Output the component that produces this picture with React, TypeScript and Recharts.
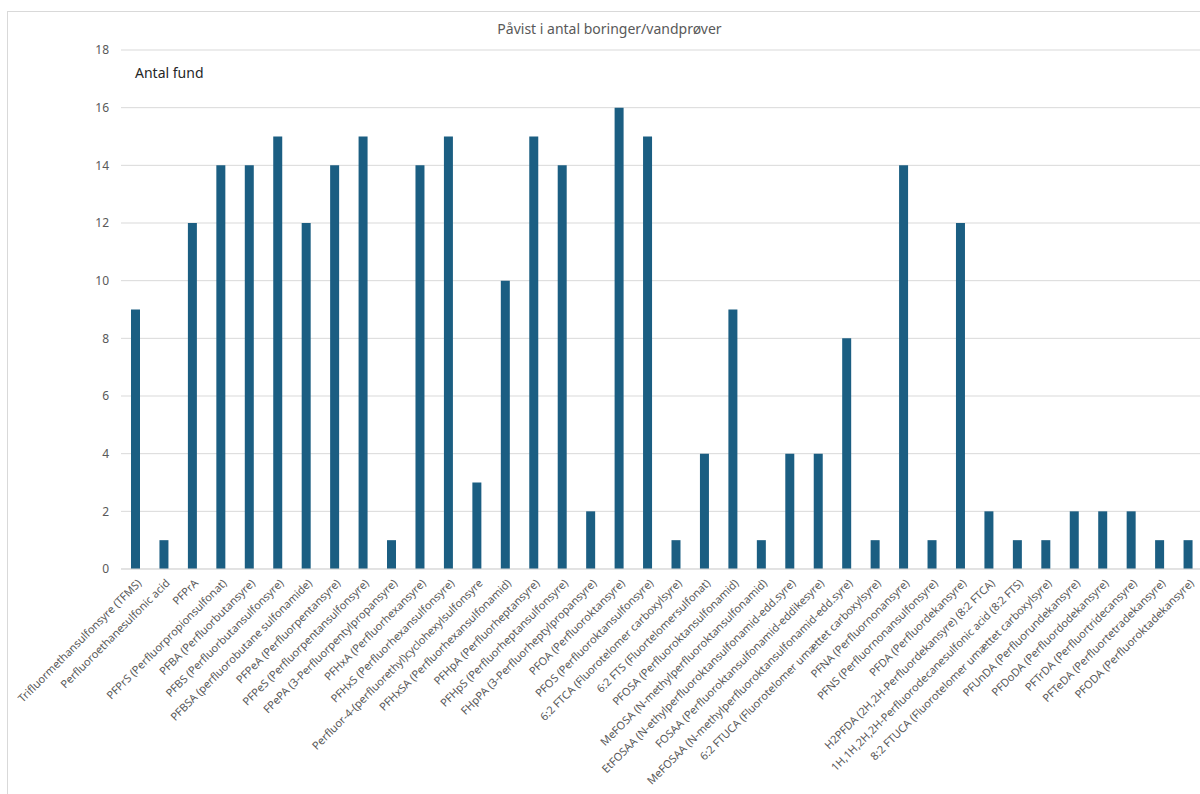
import React from 'react';
import { BarChart, Bar, XAxis, YAxis, CartesianGrid } from 'recharts';

const compounds = [
  'Trifluormethansulfonsyre (TFMS)',
  'Perfluoroethanesulfonic acid',
  'PFPrA',
  'PFPrS (Perfluorpropionsulfonat)',
  'PFBA (Perfluorbutansyre)',
  'PFBS (Perfluorbutansulfonsyre)',
  'PFBSA (perfluorobutane sulfonamide)',
  'PFPeA (Perfluorpentansyre)',
  'PFPeS (Perfluorpentansulfonsyre)',
  'FPePA (3-Perfluorpentylpropansyre)',
  'PFHxA (Perfluorhexansyre)',
  'PFHxS (Perfluorhexansulfonsyre)',
  'Perfluor-4-(perfluorethyl)cyclohexylsulfonsyre',
  'PFHxSA (Perfluorhexansulfonamid)',
  'PFHpA (Perfluorheptansyre)',
  'PFHpS (Perfluorheptansulfonsyre)',
  'FHpPA (3-Perfluorheptylpropansyre)',
  'PFOA (Perfluoroktansyre)',
  'PFOS (Perfluoroktansulfonsyre)',
  '6:2 FTCA (Fluorotelomer carboxylsyre)',
  '6:2 FTS (Fluortelomersulfonat)',
  'PFOSA (Perfluoroktansulfonamid)',
  'MeFOSA (N-methylperfluoroktansulfonamid)',
  'EtFOSAA (N-ethylperfluoroktansulfonamid-edd.syre)',
  'FOSAA (Perfluoroktansulfonamid-eddikesyre)',
  'MeFOSAA (N-methylperfluoroktansulfonamid-edd.syre)',
  '6:2 FTUCA (Fluorotelomer umættet carboxylsyre)',
  'PFNA (Perfluornonansyre)',
  'PFNS (Perfluornonansulfonsyre)',
  'PFDA (Perfluordekansyre)',
  'H2PFDA (2H,2H-Perfluordekansyre) (8:2 FTCA)',
  '1H,1H,2H,2H-Perfluorodecanesulfonic acid (8:2 FTS)',
  '8:2 FTUCA (Fluorotelomer umættet carboxylsyre)',
  'PFUnDA (Perfluorundekansyre)',
  'PFDoDA (Perfluordodekansyre)',
  'PFTrDA (Perfluortridecansyre)',
  'PFTeDA (Perfluortetradekansyre)',
  'PFODA (Perfluoroktadekansyre)',
];

const antalFund = [
  9, 1, 12, 14, 14, 15, 12, 14, 15, 1, 14, 15, 3, 10, 15, 14, 2, 16, 15, 1,
  4, 9, 1, 4, 4, 8, 1, 14, 1, 12, 2, 1, 1, 2, 2, 2, 1, 1,
];

const yTicks = [0, 2, 4, 6, 8, 10, 12, 14, 16, 18];

const data = compounds.map((name, i) => ({ name, fund: antalFund[i] }));

const FONT = '"Noto Sans", sans-serif';

const SlantTick = (props: any) => {
  const { x, y, payload } = props;
  return (
    <g transform={`translate(${x + 4},${y + 4})`}>
      <text
        x={0}
        y={0}
        dy={4}
        textAnchor="end"
        transform="rotate(-45)"
        fontSize={11}
        fontFamily={FONT}
        fill="#595959"
      >
        {payload.value}
      </text>
    </g>
  );
};

const AxisTitle = (props: any) => {
  const { viewBox } = props;
  return (
    <text
      x={viewBox.x + viewBox.width + 14}
      y={viewBox.y + 28}
      fontSize={14}
      fontFamily={FONT}
      fill="#262626"
    >
      Antal fund
    </text>
  );
};

export default function App() {
  return (
    <div
      style={{
        position: 'absolute',
        left: 0,
        top: 0,
        width: 1200,
        height: 794,
        overflow: 'hidden',
        background: '#fff',
      }}
    >
      <div
        style={{
          position: 'absolute',
          left: 7,
          top: 11,
          width: 1220,
          height: 800,
          borderTop: '1px solid #D9D9D9',
          borderLeft: '1px solid #D9D9D9',
        }}
      >
        <div
          style={{
            position: 'absolute',
            left: 0,
            top: 7,
            width: 1203,
            textAlign: 'center',
            fontFamily: FONT,
            fontSize: 14,
            color: '#595959',
          }}
        >
          Påvist i antal boringer/vandprøver
        </div>
        <BarChart
          width={1205}
          height={790}
          data={data}
          margin={{ top: 38, right: 11, bottom: 13, left: 63 }}
          barSize={9}
        >
          <CartesianGrid vertical={false} stroke="#D9D9D9" />
          <XAxis
            dataKey="name"
            interval={0}
            height={220}
            tick={<SlantTick />}
            tickLine={false}
            axisLine={{ stroke: '#D9D9D9' }}
          />
          <YAxis
            width={50}
            domain={[0, 18]}
            ticks={yTicks}
            tickLine={false}
            axisLine={false}
            tickSize={0}
            tickMargin={12}
            tick={{ fontSize: 12, fill: '#595959', fontFamily: FONT }}
            label={<AxisTitle />}
          />
          <Bar dataKey="fund" fill="#1B5E82" isAnimationActive={false} />
        </BarChart>
      </div>
    </div>
  );
}
